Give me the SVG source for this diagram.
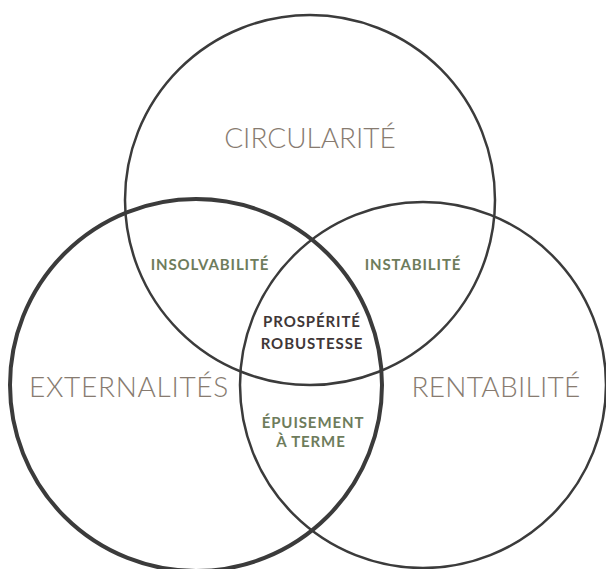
<svg xmlns="http://www.w3.org/2000/svg" width="606" height="569" viewBox="0 0 606 569">
<style>
.ring{fill:none;stroke:#3b3b3b;stroke-width:2.5}
.thick{stroke-width:4}
.big{font-family:Lato,"Open Sans",sans-serif;font-weight:300;font-size:28px;fill:#877b70;text-anchor:middle}
.sm{font-family:Lato,"Open Sans",sans-serif;font-weight:700;font-size:15px;letter-spacing:0.9px;text-anchor:middle}
.g{fill:#6e7c5c}
.d{fill:#3f3737}
</style>
<rect width="606" height="569" fill="#ffffff"/>
<g id="circularite">
<circle class="ring" cx="310" cy="200" r="185"/>
<text class="big" x="310" y="148">CIRCULARITÉ</text>
</g>
<g id="rentabilite">
<circle class="ring" cx="423" cy="385" r="183"/>
<text class="big" x="496" y="397" letter-spacing="0.3">RENTABILITÉ</text>
</g>
<g id="externalites">
<circle class="ring thick" cx="196" cy="385" r="186"/>
<text class="big" x="129" y="397" letter-spacing="0.7">EXTERNALITÉS</text>
</g>
<g id="insolvabilite">
<text class="sm g" x="210" y="270">INSOLVABILITÉ</text>
</g>
<g id="instabilite">
<text class="sm g" x="413" y="270">INSTABILITÉ</text>
</g>
<g id="prosperite">
<text class="sm d" x="312" y="327">PROSPÉRITÉ</text>
<text class="sm d" x="312" y="349">ROBUSTESSE</text>
</g>
<g id="epuisement">
<text class="sm g" x="313" y="428">ÉPUISEMENT</text>
<text class="sm g" x="311" y="447">À TERME</text>
</g>
</svg>
